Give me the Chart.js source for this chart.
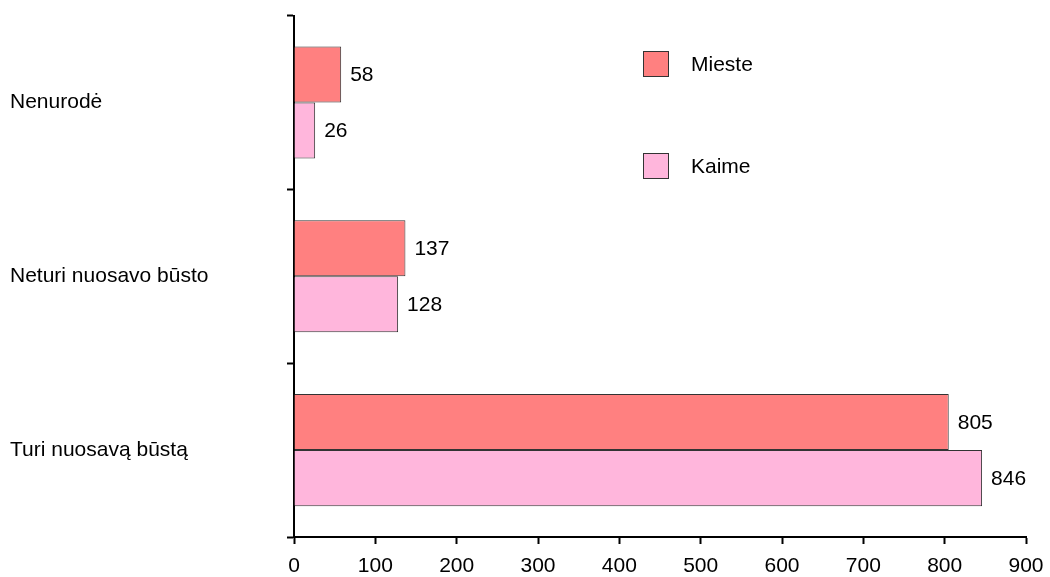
<!DOCTYPE html>
<html>
<head>
<meta charset="utf-8">
<script src="https://cdn.jsdelivr.net/npm/chart.js@4/dist/chart.umd.min.js"></script>
<style>
  html, body { margin: 0; padding: 0; background: #fff; }
  #wrap { width: 1050px; height: 577px; position: relative; }
</style>
</head>
<body>
<div id="wrap"><canvas id="chart"></canvas></div>
<script>
const categories = ['Nenurodė', 'Neturi nuosavo būsto', 'Turi nuosavą būstą'];
const seriesNames = ['Mieste', 'Kaime'];
const miesteValues = [58, 137, 805];
const kaimeValues = [26, 128, 846];
const xTicks = [0, 100, 200, 300, 400, 500, 600, 700, 800, 900];

const colors = ['#ff8080', '#ffb6dc'];
const font = { family: '"Liberation Sans", Arial, sans-serif', size: 21 };

// value labels at the bar ends
const valueLabels = {
    id: 'valueLabels',
    afterDatasetsDraw(chart) {
        const ctx = chart.ctx;
        ctx.save();
        ctx.font = `${font.size}px ${font.family}`;
        ctx.fillStyle = '#000';
        ctx.textAlign = 'left';
        ctx.textBaseline = 'middle';
        chart.data.datasets.forEach((ds, i) => {
            chart.getDatasetMeta(i).data.forEach((bar, j) => {
                ctx.fillText(String(ds.data[j]), bar.x + 9, bar.y + 1);
            });
        });
        ctx.restore();
    },
};

// legend drawn inside the plot, upper right
const innerLegend = {
    id: 'innerLegend',
    afterDraw(chart) {
        const ctx = chart.ctx;
        const x = 643, ys = [51, 153], size = 26;
        ctx.save();
        ctx.font = `${font.size}px ${font.family}`;
        ctx.textBaseline = 'middle';
        seriesNames.forEach((name, i) => {
            ctx.fillStyle = colors[i];
            ctx.fillRect(x, ys[i], size, size);
            ctx.strokeStyle = '#333';
            ctx.lineWidth = 1;
            ctx.strokeRect(x + 0.5, ys[i] + 0.5, size - 1, size - 1);
            ctx.fillStyle = '#000';
            ctx.fillText(name, 691, ys[i] + size / 2 + 1);
        });
        ctx.restore();
    },
};

new Chart(document.getElementById('chart'), {
    type: 'bar',
    data: {
        labels: categories,
        datasets: [
            { label: seriesNames[0], data: miesteValues, backgroundColor: colors[0], borderColor: '#333', borderWidth: 1 },
            { label: seriesNames[1], data: kaimeValues, backgroundColor: colors[1], borderColor: '#333', borderWidth: 1 },
        ],
    },
    options: {
        indexAxis: 'y',
        responsive: true,
        maintainAspectRatio: false,
        animation: false,
        layout: { padding: { left: 10, top: 15, right: 24, bottom: 0 } },
        datasets: { bar: { categoryPercentage: 0.645, barPercentage: 1 } },
        plugins: {
            legend: { display: false },
            tooltip: { enabled: false },
        },
        scales: {
            x: {
                min: 0,
                max: 900,
                afterBuildTicks: (s) => { s.ticks = xTicks.map(v => ({ value: v })); },
                ticks: { font, color: '#000', padding: 10, maxRotation: 0 },
                grid: { drawOnChartArea: false, tickLength: 7, tickWidth: 2, tickColor: '#000' },
                border: { color: '#000', width: 2 },
                afterFit: (s) => { s.height = 40; s.paddingLeft = 0; s.paddingRight = 0; },
            },
            y: {
                ticks: { font, color: '#000', crossAlign: 'far' },
                grid: { offset: true, drawOnChartArea: false, tickLength: 7, tickWidth: 2, tickColor: '#000' },
                border: { color: '#000', width: 2 },
                afterFit: (s) => { s.width = 284; },
            },
        },
    },
    plugins: [valueLabels, innerLegend],
});
</script>
</body>
</html>
